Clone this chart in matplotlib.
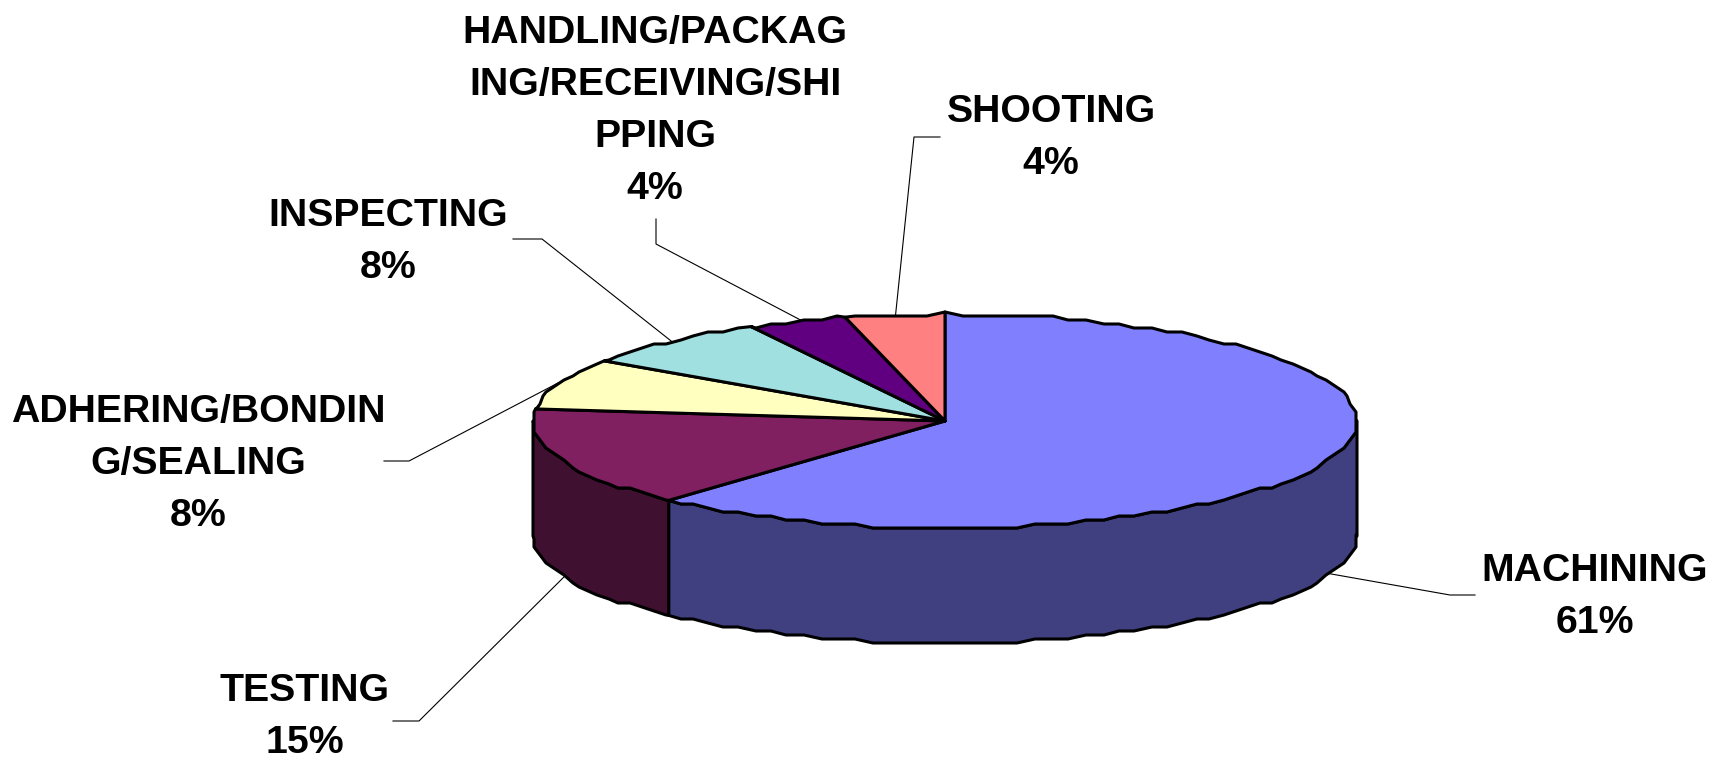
import matplotlib
matplotlib.use('Agg')
import matplotlib.pyplot as plt
import numpy as np

plt.rcParams['font.family'] = ['Liberation Sans', 'DejaVu Sans']

# data
labels = ['MACHINING', 'TESTING', 'ADHERING/BONDIN\nG/SEALING', 'INSPECTING',
          'HANDLING/PACKAG\nING/RECEIVING/SHI\nPPING', 'SHOOTING']
pct_labels = ['61%', '15%', '8%', '8%', '4%', '4%']
# shares as measured off the slices in the picture
values = [61.7, 15.1, 7.7, 7.7, 3.9, 3.9]
top_colors = ['#8080FF', '#802060', '#FFFFC0', '#A0E0E0', '#600080', '#FF8080']
side_colors = ['#404080', '#401030', '#808060', '#507070', '#300040', '#804040']

# label centres and leader lines, in pixels of the 1720x760 picture
label_pos = [(1595, 597), (305, 717), (198, 464), (388, 242), (655, 111), (1051, 138)]
leaders = [
    [(1475, 595), (1450, 595), (1320, 572)],
    [(393, 721), (419, 721), (575, 566)],
    [(384, 461), (409, 461), (558, 383)],
    [(513, 239), (542, 239), (680, 348)],
    [(656, 219), (656, 244), (810, 325)],
    [(940, 137), (914, 137), (894, 330)],
]

cx, cy = 945, 421
rx, ry = 412, 107
depth = 115

fig = plt.figure(figsize=(17.2, 7.6), dpi=100)
fig.set_facecolor('white')
ax = fig.add_axes([0, 0, 1, 1])
ax.set_xlim(0, 1720)
ax.set_ylim(760, 0)
ax.axis('off')


def arc(a0, a1, dy=0):
    # angles in degrees, clockwise from 12 o'clock. the outline of the
    # original is a coarse polygon, so sample often and snap to a small grid
    inner = np.arange(np.ceil(a0 / 2.5) * 2.5, a1, 2.5)
    t = np.radians(inner)
    x = np.round((cx + rx * np.sin(t)) / 3) * 3
    y = np.round((cy - ry * np.cos(t)) / 4) * 4 + dy
    t_end = np.radians([a0, a1])
    xe = cx + rx * np.sin(t_end)
    ye = cy - ry * np.cos(t_end) + dy
    return np.r_[xe[0], x, xe[1]], np.r_[ye[0], y, ye[1]]


edges = np.concatenate([[0], np.cumsum(values)]) / sum(values) * 360

# leaders go behind the pie
for pts in leaders:
    xs, ys = zip(*pts)
    ax.plot(xs, ys, color='black', lw=0.8, zorder=1)

# outer wall, only the front half of the pie shows it
for i in range(len(values)):
    a0 = max(edges[i], 90)
    a1 = min(edges[i + 1], 270)
    if a1 <= a0:
        continue
    x0, y0 = arc(a0, a1)
    x1, y1 = arc(a0, a1, depth)
    ax.fill(np.r_[x0, x1[::-1]], np.r_[y0, y1[::-1]], facecolor=side_colors[i],
            edgecolor='black', lw=2.2, joinstyle='round', zorder=2)

# top face
for i in range(len(values)):
    x0, y0 = arc(edges[i], edges[i + 1])
    ax.fill(np.r_[cx, x0], np.r_[cy, y0], facecolor=top_colors[i],
            edgecolor='black', lw=2.2, joinstyle='round', zorder=3)

for lab, pct, pos in zip(labels, pct_labels, label_pos):
    ax.text(pos[0], pos[1], '%s\n%s' % (lab, pct), ha='center', va='center',
            fontsize=28.3, fontweight='bold', color='black', linespacing=1.56)

fig.savefig('out.png', dpi=100)
